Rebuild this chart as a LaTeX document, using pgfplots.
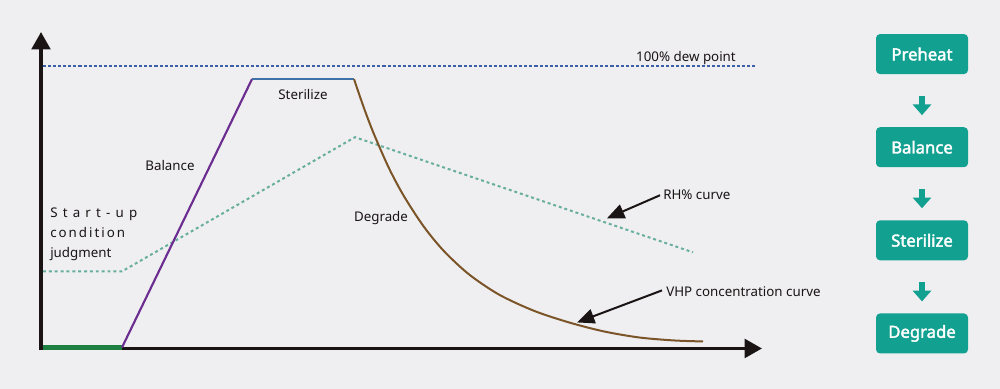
\documentclass[border=0pt]{standalone}
\usepackage{pgfplots}
\pgfplotsset{compat=1.18}
\usetikzlibrary{arrows.meta}
\usepackage{fontspec}
\setmainfont{Noto Sans}
\newfontfamily\boxfont{Noto Sans}[FakeBold=2.2]
\definecolor{bg}{HTML}{EFEFF1}
\definecolor{teal}{HTML}{12A091}
\definecolor{bgreen}{HTML}{1E8040}
\definecolor{purp}{HTML}{6B2D8F}
\definecolor{sblue}{HTML}{3E72A8}
\definecolor{brn}{HTML}{7B5428}
\definecolor{gdot}{HTML}{67AE9E}
\definecolor{bdot}{HTML}{3C5FA6}
\definecolor{ink}{HTML}{1A1414}
\begin{document}
\begin{tikzpicture}
\begin{axis}[
  scale only axis, width=750pt, height=291pt,
  xmin=0, xmax=1000, ymin=0, ymax=388, y dir=reverse,
  hide axis, clip=false,
]
\fill[bg] (axis cs:0,0) rectangle (axis cs:1000,388);
% dew point line
\addplot[bdot, line width=1.5pt, dash pattern=on 2.3pt off 1.5pt] coordinates {(43,66) (755,66)};
% RH curve
\addplot[gdot, line width=1.5pt, dash pattern=on 2.2pt off 2.2pt] coordinates {(43,271) (122,271) (355,137) (693,252)};
% axes
\addplot[ink, line width=2.4pt, -{Triangle[length=13pt,width=14pt]}] coordinates {(41,350) (41,32)};
\addplot[ink, line width=2.4pt, -{Triangle[length=13pt,width=14pt]}] coordinates {(40,348) (762,348)};
% VHP curve
\addplot[bgreen, line width=3.6pt] coordinates {(43,347) (122,347)};
\addplot[purp, line width=1.6pt] coordinates {(122,347) (252,79)};
\addplot[sblue, line width=1.6pt] coordinates {(252,79) (354,79)};
\addplot[brn, line width=1.5pt, smooth] coordinates {
 (354,79) (364,108) (374,134) (389,168) (404,196) (424,226.6) (444,250.8)
 (469,274) (499,294.2) (534,310.4) (569,322) (604,331) (639,337) (674,340) (703,341)};
% annotation arrows
\draw[ink, line width=1.5pt, -{Triangle[length=13pt,width=11pt]}] (axis cs:660,195) -- (axis cs:607,218);
\draw[ink, line width=1.5pt, -{Triangle[length=13pt,width=11pt]}] (axis cs:662,290) -- (axis cs:577,322);
% labels
\begin{scope}[every node/.style={font=\fontsize{10}{12}\selectfont, text=ink, inner sep=0pt}]
\node[anchor=base] at (axis cs:686,61) {100\% dew point};
\node[anchor=base] at (axis cs:303,99) {Sterilize};
\node[anchor=base] at (axis cs:170,170) {Balance};
\node[anchor=base] at (axis cs:381,221) {Degrade};
\node[anchor=base west] at (axis cs:50,217.5) {S\kern3.9pt t\kern3.9pt a\kern3.9pt r\kern3.9pt t\kern3.9pt -\kern3.9pt u\kern3.9pt p};
\node[anchor=base west] at (axis cs:50,237.5) {c\kern1.5pt o\kern1.5pt n\kern1.5pt d\kern1.5pt i\kern1.5pt t\kern1.5pt i\kern1.5pt o\kern1.5pt n};
\node[anchor=base west] at (axis cs:50,257.5) {judgment};
\node[anchor=base west] at (axis cs:663,199) {RH\% curve};
\node[anchor=base west] at (axis cs:666,296) {VHP concentration curve};
\end{scope}
% flow boxes
\begin{scope}[every node/.style={fill=teal, text=white, rounded corners=3pt, minimum width=69pt, minimum height=30pt, inner sep=0pt, font=\boxfont\fontsize{12.5}{14}\selectfont}]
\node at (axis cs:922,54) {Preheat};
\node at (axis cs:922,147) {Balance};
\node at (axis cs:922,240) {Sterilize};
\node at (axis cs:922,333) {Degrade};
\end{scope}
\foreach \ya/\yb in {96/115, 189/208, 282/301} {
  \edef\tmp{\noexpand\draw[teal, line width=3.8pt, -{Triangle[length=8pt,width=13.5pt]}] (axis cs:922,\ya) -- (axis cs:922,\yb);}
  \tmp
}
\end{axis}
\end{tikzpicture}
\end{document}
